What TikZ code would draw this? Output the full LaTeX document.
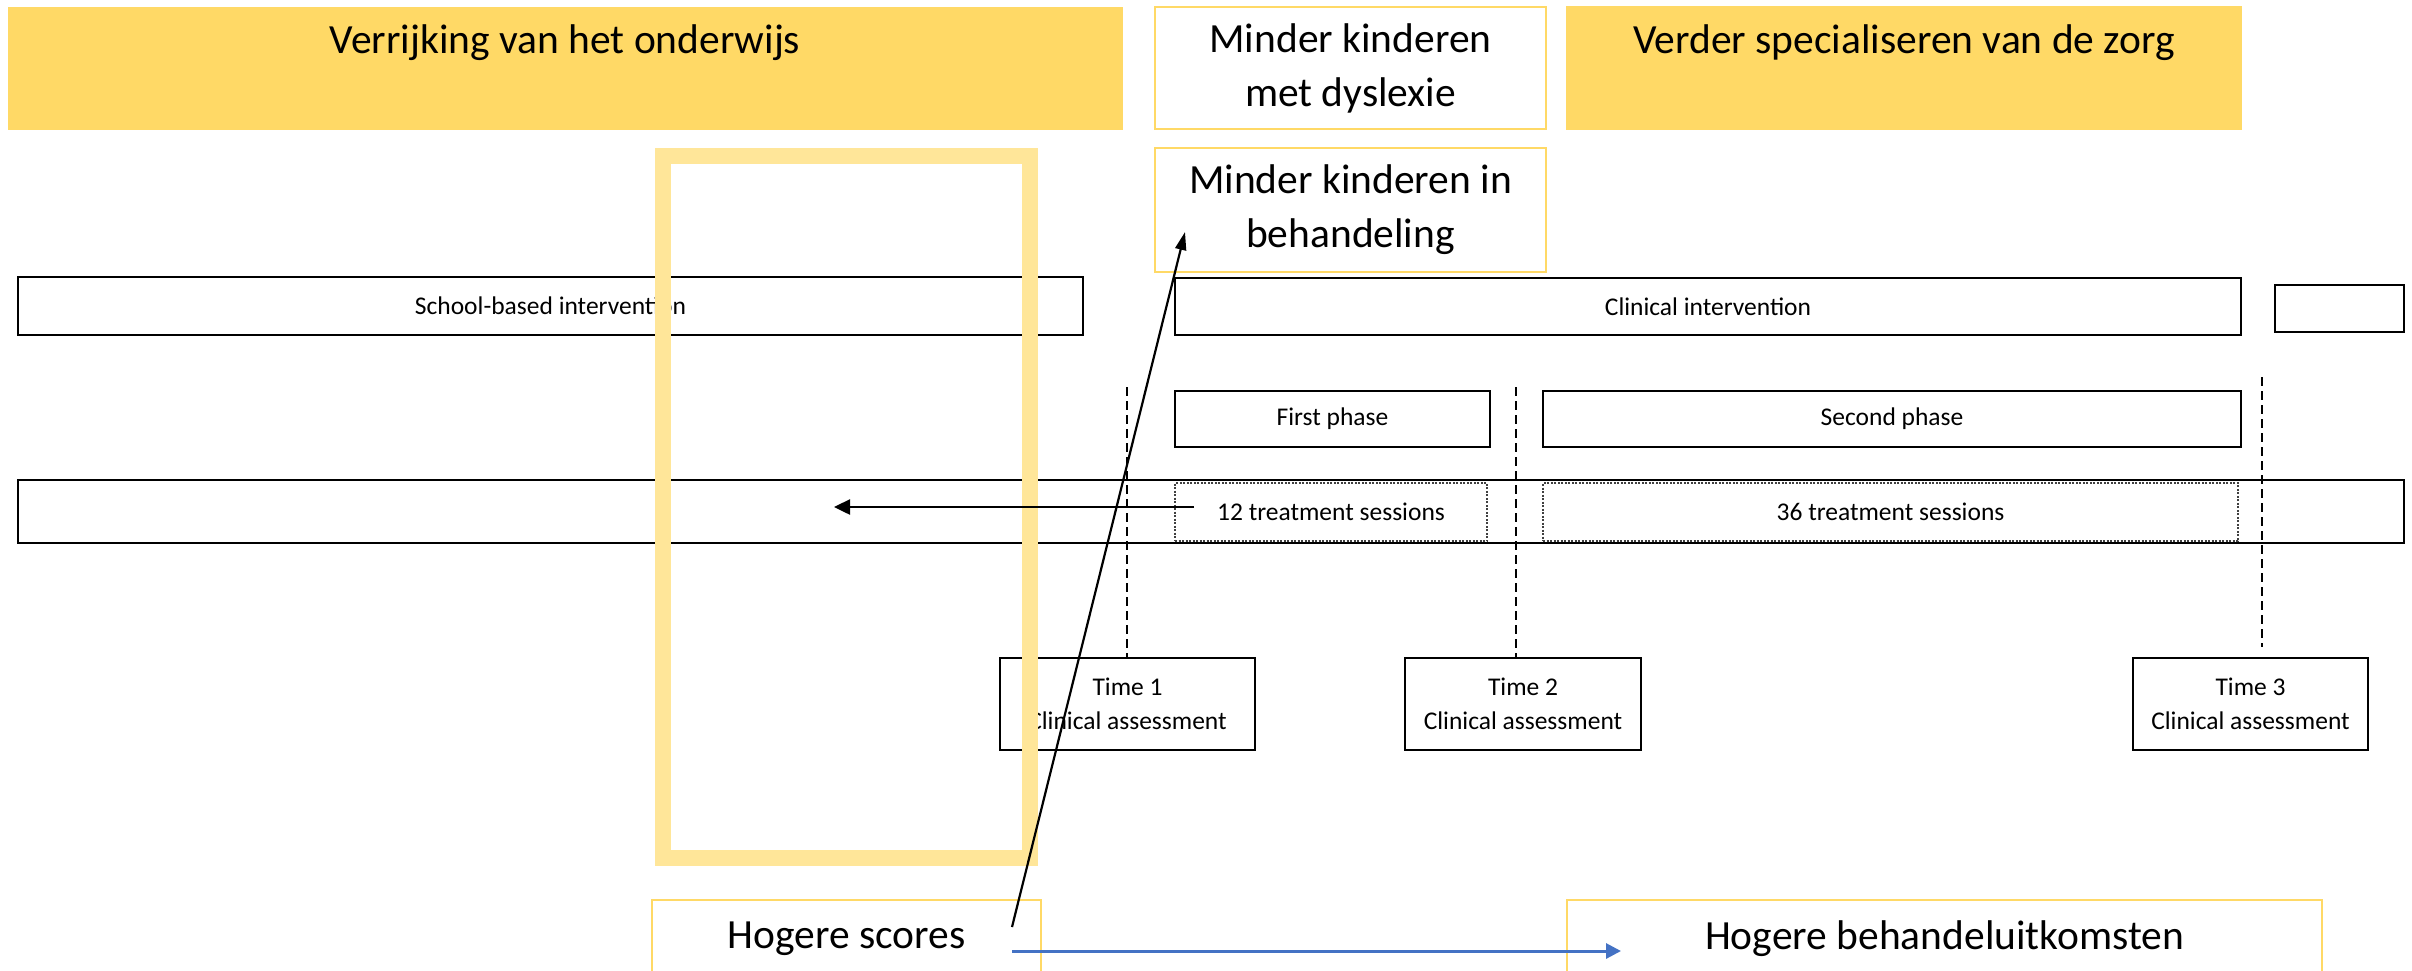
\documentclass[tikz,border=0pt]{standalone}
\usepackage{fontspec}
\setmainfont{Carlito}
\usetikzlibrary{arrows.meta}
\definecolor{gold}{HTML}{FFD966}
\definecolor{paleGold}{HTML}{FFE699}
\definecolor{blueArrow}{HTML}{4472C4}
\begin{document}
\begin{tikzpicture}[x=1pt,y=-1pt,
  area/.style={anchor=north west, inner sep=0pt, outer sep=0pt},
  goldbox/.style={area, fill=gold, draw=none},
  outcome/.style={area, draw=gold, line width=2pt, fill=white, align=center,
    font=\fontsize{41.5}{54}\selectfont},
  tbox/.style={area, draw=black, line width=2.2pt, align=center,
    font=\fontsize{25.5}{34}\selectfont},
  sessbox/.style={area, draw=black!75, line width=2pt, dash pattern=on 2pt off 1.5pt,
    align=center, font=\fontsize{25.5}{34}\selectfont},
  headtext/.style={inner sep=0pt, align=center, font=\fontsize{41.5}{54}\selectfont},
  timeline/.style={black, line width=1.5pt, dash pattern=on 9pt off 5pt},
  arrowblack/.style={black, line width=2.5pt, -{Triangle[length=16pt,width=15pt]}},
  arrowthin/.style={black, line width=2.2pt, -{Triangle[length=18pt,width=11pt]}},
  arrowblue/.style={blueArrow, line width=3pt, -{Triangle[length=15pt,width=15pt]}},
  frame/.style={area, draw=paleGold, line width=16pt}
]
\clip (0,0) rectangle (2412,970);
\fill[white] (0,0) rectangle (2412,970);

% top row
\node[goldbox, minimum width=1115pt, minimum height=123pt] (g1) at (8,7) {};
\node[headtext] (g1t) at (565,43) {Verrijking van het onderwijs};
\node[outcome, minimum width=391pt, minimum height=122pt] (m1) at (1155,7) {Minder kinderen\\met dyslexie};
\node[goldbox, minimum width=676pt, minimum height=124pt] (g3) at (1566,6) {};
\node[headtext] (g3t) at (1904,43) {Verder specialiseren van de zorg};
\node[outcome, minimum width=391pt, minimum height=124pt] (m2) at (1155,148) {Minder kinderen in\\behandeling};

% intervention row
\node[tbox, minimum width=1065pt, minimum height=58pt] (school) at (18,277) {School-based intervention};
\node[tbox, minimum width=1066pt, minimum height=57pt] (clin) at (1175,278) {Clinical intervention};
\node[tbox, minimum width=129pt, minimum height=47pt] (extra) at (2275,285) {};

% phases
\node[tbox, minimum width=315pt, minimum height=56pt] (first) at (1175,391) {First phase};
\node[tbox, minimum width=698pt, minimum height=56pt] (second) at (1543,391) {Second phase};

% sessions row
\node[tbox, minimum width=2386pt, minimum height=63pt] (long) at (18,480) {};
\node[sessbox, minimum width=312pt, minimum height=58pt] (s1) at (1175,483) {12 treatment sessions};
\node[sessbox, minimum width=695pt, minimum height=58pt] (s2) at (1543,483) {36 treatment sessions};

% assessments
\node[tbox, minimum width=255pt, minimum height=92pt] (t1) at (1000,658) {Time 1\\Clinical assessment};
\node[tbox, minimum width=236pt, minimum height=92pt] (t2) at (1405,658) {Time 2\\Clinical assessment};
\node[tbox, minimum width=235pt, minimum height=92pt] (t3) at (2133,658) {Time 3\\Clinical assessment};

\coordinate (d1) at (1127,387);
\coordinate (d2) at (1516,387);
\coordinate (d3) at (2262,377);
\coordinate (d3b) at (2262,647);
\draw[timeline] (d1) -- (d1 |- t1.north);
\draw[timeline] (d2) -- (d2 |- t2.north);
\draw[timeline] (d3) -- (d3b);

% bottom outcomes
\node[outcome, minimum width=389pt, minimum height=78pt] (hs) at (652,900) {Hogere scores};
\node[outcome, minimum width=755pt, minimum height=78pt] (hb) at (1567,900) {Hogere behandeluitkomsten};

% highlight frame
\node[frame, minimum width=367pt, minimum height=702pt] (hl) at (663,156) {};

% arrows
\coordinate (a1s) at (1194,507);
\coordinate (a1e) at (834,507);
\draw[arrowblack] (a1s) -- (a1e);
\coordinate (a2s) at (1012,927);
\coordinate (a2e) at (1185,232);
\draw[arrowthin] (a2s) -- (a2e);
\coordinate (a3s) at (1012,951);
\coordinate (a3e) at (1621,951);
\draw[arrowblue] (a3s) -- (a3e);
\end{tikzpicture}
\end{document}
